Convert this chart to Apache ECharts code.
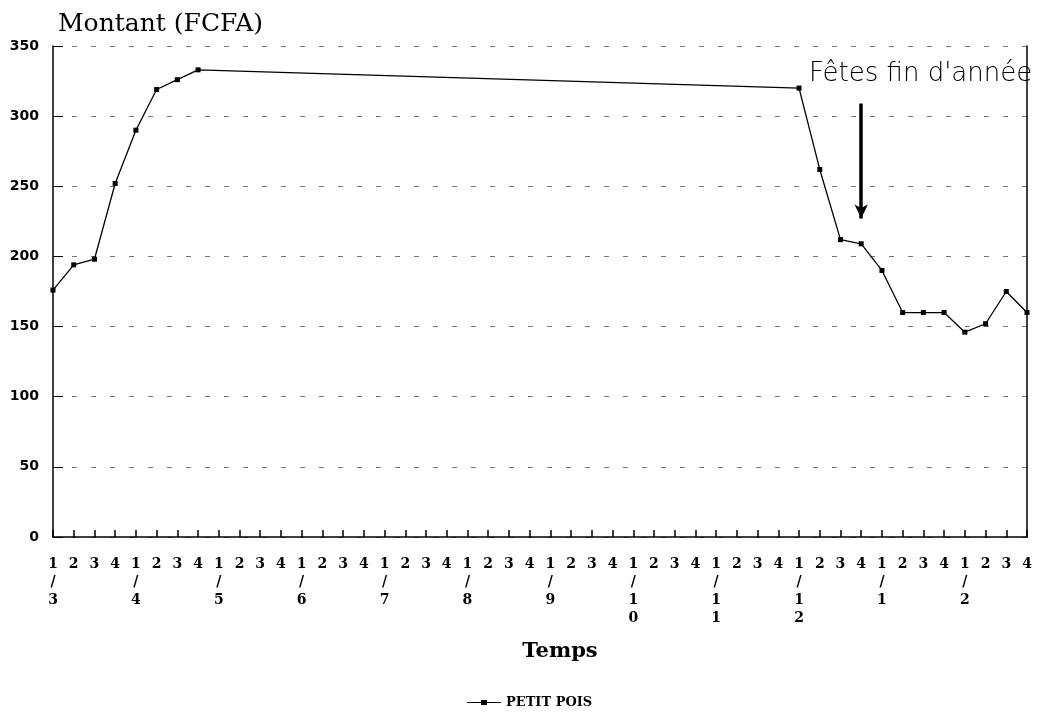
<!DOCTYPE html>
<html>
<head>
<meta charset="utf-8">
<script src="https://cdn.jsdelivr.net/npm/echarts@6/dist/echarts.min.js"></script>
<style>html,body{margin:0;padding:0;background:#fff}#c{width:1054px;height:714px}</style>
</head>
<body>
<div id="c"></div>
<script>
// Data
const weeks = ['1', '2', '3', '4'];
const months = ['3', '4', '5', '6', '7', '8', '9', '10', '11', '12', '1', '2'];
const yTicks = [0, 50, 100, 150, 200, 250, 300, 350];
// Values per week (null = no point; line connects across)
const petitPois = [
  176, 194, 198, 252,   // month 3
  290, 319, 326, 333,   // month 4
  null, null, null, null, // 5
  null, null, null, null, // 6
  null, null, null, null, // 7
  null, null, null, null, // 8
  null, null, null, null, // 9
  null, null, null, null, // 10
  null, null, null, null, // 11
  320, 262, 212, 209,   // month 12
  190, 160, 160, 160,   // month 1
  146, 152, 175, 160    // month 2
];
const annotationText = "Fêtes fin d'année";
const arrowIndex = 39;
const arrowFrom = 309;
const arrowTo = 227;
const seriesName = 'PETIT POIS';

const categories = [];
const catMonth = [];
months.forEach(m => weeks.forEach(w => { categories.push(w); catMonth.push(m); }));

const chart = echarts.init(document.getElementById('c'), null, { renderer: 'canvas' });
const serif = '"DejaVu Serif", "Liberation Serif", serif';
chart.setOption({
  animation: false,
  backgroundColor: '#fff',
  grid: { left: 53, right: 27, top: 46, bottom: 177 },
  title: {
    text: 'Montant (FCFA)', left: 53, top: 7,
    textStyle: { fontFamily: serif, fontSize: 25, fontWeight: 'normal', color: '#000' }
  },
  legend: {
    bottom: 0, left: 462,
    itemWidth: 34, itemHeight: 6, itemGap: 8,
    textStyle: { fontFamily: serif, fontSize: 13, fontWeight: 'bold', color: '#000' },
    data: [{ name: seriesName, icon: 'path://M0,3 L34,3 L34,4 L0,4 Z M14,1 L20,1 L20,6 L14,6 Z' }]
  },
  xAxis: {
    type: 'category', data: categories, boundaryGap: false,
    name: 'Temps', nameLocation: 'middle', nameGap: 104,
    nameTextStyle: { fontFamily: serif, fontSize: 21, fontWeight: 'bold', color: '#000', padding: [0, 0, 0, 40] },
    axisLine: { lineStyle: { color: '#000', width: 1.5 } },
    axisTick: { inside: true, length: 7, lineStyle: { color: '#000', width: 1.5 }, interval: 0 },
    axisLabel: {
      interval: 0, margin: 18, color: '#000', lineHeight: 18,
      fontFamily: serif, fontSize: 14, fontWeight: 'bold',
      formatter: (v, i) => i % 4 === 0 ? v + '\n/\n' + catMonth[i].split('').join('\n') : v
    },
    splitLine: { show: false }
  },
  yAxis: [{
    type: 'value', min: 0, max: 350, interval: 50,
    axisLine: { show: true, lineStyle: { color: '#000', width: 1.5 } },
    axisTick: { show: true, inside: true, length: 10, lineStyle: { color: '#000' } },
    axisLabel: { color: '#000', fontFamily: '"DejaVu Sans", sans-serif', fontSize: 14, fontWeight: 'bold', margin: 14 },
    splitLine: { show: true, lineStyle: { color: '#777', width: 1, type: [5, 14] } }
  }, {
    type: 'value', min: 0, max: 350, interval: 50, position: 'right',
    axisLine: { show: true, lineStyle: { color: '#000', width: 1.5 } },
    axisTick: { show: false }, axisLabel: { show: false }, splitLine: { show: false }
  }],
  graphic: [{
    type: 'text', left: 809, top: 61,
    style: { text: annotationText, fontFamily: '"DejaVu Sans", sans-serif', fontSize: 26, fontWeight: 200, fill: '#000' }
  }],
  series: [{
    name: seriesName, type: 'line', data: petitPois, connectNulls: true,
    symbol: 'rect', symbolSize: 5, showSymbol: true,
    itemStyle: { color: '#000' },
    lineStyle: { color: '#000', width: 1.3 },
    markLine: {
      silent: true, symbol: ['none', 'arrow'], symbolSize: [10, 14],
      lineStyle: { color: '#000', width: 3.5, type: 'solid' },
      label: { show: false },
      data: [[{ coord: [arrowIndex, arrowFrom] }, { coord: [arrowIndex, arrowTo] }]]
    }
  }]
});
</script>
</body>
</html>
